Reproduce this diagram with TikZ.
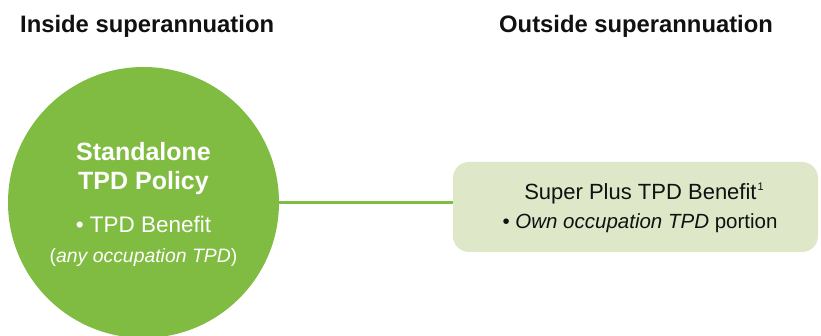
\documentclass[tikz,border=0pt]{standalone}
\usepackage{fontspec}
\setmainfont{Liberation Sans}
\definecolor{leaf}{HTML}{80BC41}
\definecolor{pale}{HTML}{DEE8C9}
\definecolor{ink}{HTML}{111111}
\begin{document}
\begin{tikzpicture}[x=1pt,y=-1pt,
  header/.style={anchor=base west,font=\fontsize{23.8}{26}\selectfont\bfseries,text=ink,inner sep=0pt},
  intext/.style={anchor=base,text=white,inner sep=0pt},
  boxtext/.style={anchor=base,text=ink,inner sep=0pt},
  link/.style={draw=leaf,line width=2.2pt}]
\useasboundingbox (0,0) rectangle (821,336);
\clip (0,0) rectangle (821,336);
\node[header] (hin) at (20,33) {Inside superannuation};
\node[header] (hout) at (499,33) {Outside superannuation};
\node[circle,fill=leaf,minimum size=271pt,inner sep=0pt] (policy) at (143.5,202.5) {};
\node[intext,font=\fontsize{25}{28}\selectfont\bfseries] (ptitle) at (143.5,161) {Standalone};
\node[intext,font=\fontsize{25}{28}\selectfont\bfseries] (ptitleb) at (143.5,189.5) {TPD Policy};
\node[intext,font=\fontsize{22.5}{24}\selectfont] (pben) at (143.5,232.7) {\textbullet\ TPD Benefit};
\node[intext,font=\fontsize{19.4}{22}\selectfont] (pocc) at (143.5,262.7) {(\textit{any occupation TPD})};
\path[fill=pale,rounded corners=16pt] (453,162) rectangle (818,252);
\coordinate (boxw) at (453,202.5);
\node[boxtext,font=\fontsize{22}{24}\selectfont] (sp) at (644,199.3) {Super Plus TPD Benefit\kern1pt\raisebox{0.4em}{\fontsize{11}{11}\selectfont 1}};
\node[boxtext,font=\fontsize{20.5}{22}\selectfont] (own) at (640,228.3) {\textbullet\ \textit{Own occupation TPD} portion};
\draw[link] (policy.east) -- (boxw);
\end{tikzpicture}
\end{document}
